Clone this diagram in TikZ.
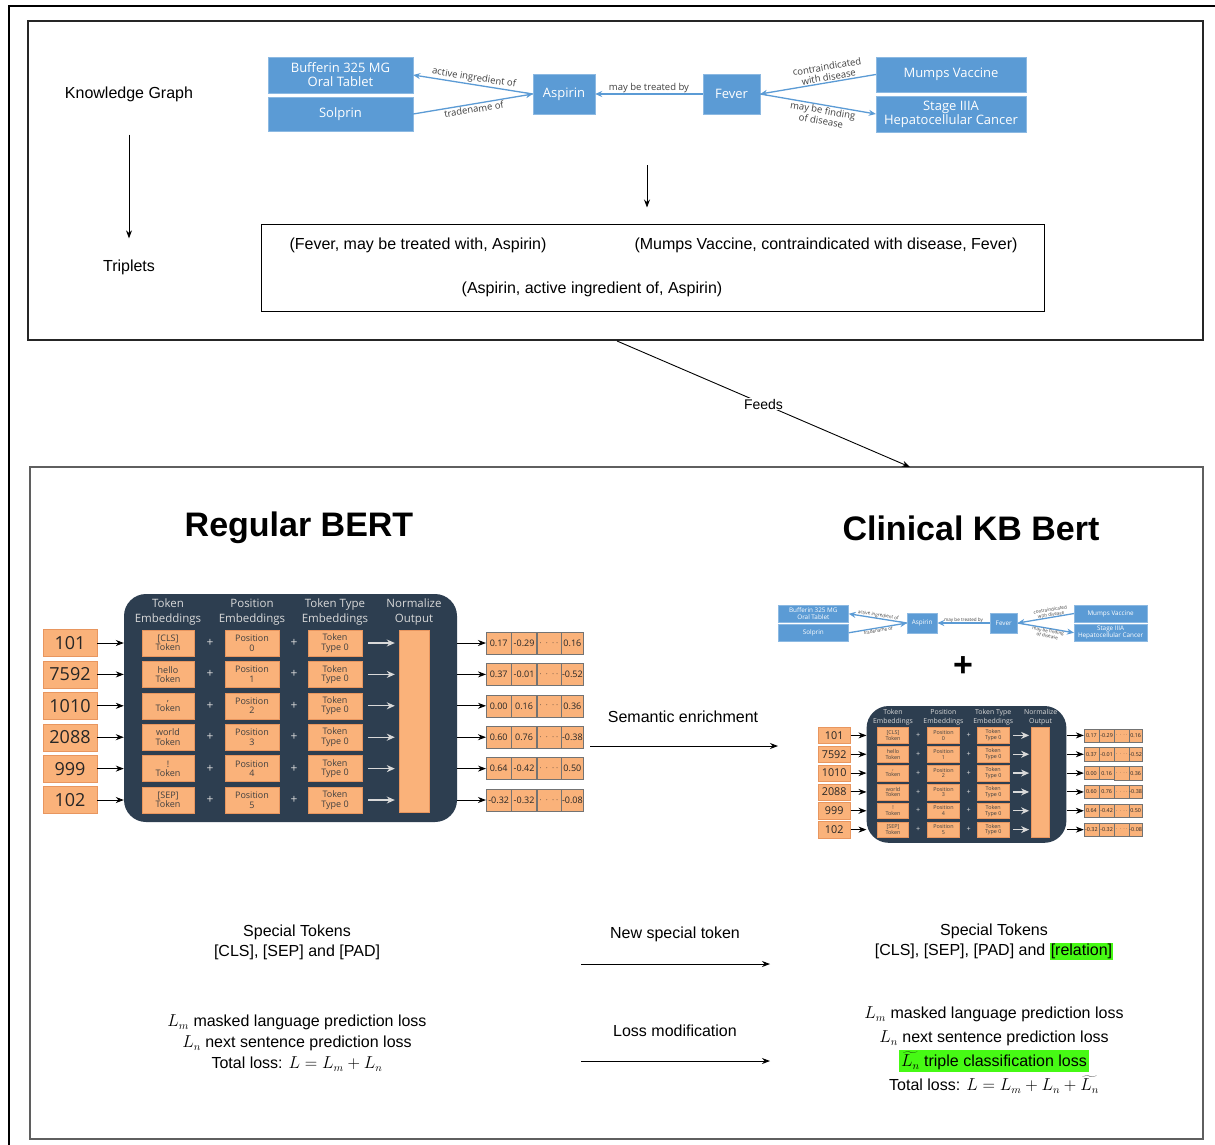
\documentclass[tikz,border=0pt]{standalone}
\usepackage[no-math]{fontspec}
\setmainfont{Liberation Sans}
\newfontfamily\diagfont{Open Sans}
\usetikzlibrary{positioning,arrows.meta}

\definecolor{kgblue}{RGB}{91,155,213}
\definecolor{bertdark}{RGB}{45,62,80}
\definecolor{bertorange}{RGB}{250,178,122}
\definecolor{orangeline}{RGB}{232,150,95}
\definecolor{hlgreen}{RGB}{70,250,20}
\definecolor{framegray}{RGB}{95,95,95}

\tikzset{
  kgnode/.style={shape=rectangle, fill=kgblue, draw=kgblue!70!white, text=white,
    font=\diagfont\fontsize{13}{14}\selectfont, align=center, inner sep=0pt},
  kgedge/.style={draw=kgblue, line width=1.3pt, -{Stealth[length=7pt,width=6pt]}},
  kglabel/.style={font=\diagfont\fontsize{9.5}{10.5}\selectfont, text=black!75,
    sloped, align=center, inner sep=0pt},
  blackarr/.style={draw=black, line width=0.9pt, -{Stealth[length=8pt,width=6pt]}},
  whitearr/.style={draw=white!85!black, line width=1.2pt, -{Stealth[length=8pt,width=7pt]}},
  darkbox/.style={shape=rectangle, rounded corners=22pt, fill=bertdark, inner sep=0pt},
  inbox/.style={shape=rectangle, fill=bertorange, draw=orangeline, inner sep=0pt,
    minimum width=54, minimum height=27, font=\diagfont\fontsize{18}{18}\selectfont, text=black!85},
  ebox/.style={shape=rectangle, fill=bertorange, draw=orangeline, inner sep=0pt,
    minimum width=54, minimum height=26, align=center,
    font=\diagfont\fontsize{9}{9.5}\selectfont, text=black!75},
  headtxt/.style={align=center, text=white!85!black, inner sep=0pt,
    font=\diagfont\fontsize{11.5}{15}\selectfont},
  plussign/.style={text=white!85!black, inner sep=0pt, font=\diagfont\fontsize{12}{12}\selectfont},
  cell/.style={shape=rectangle, fill=bertorange, draw=black!55, inner sep=0pt,
    minimum height=22, font=\diagfont\fontsize{9}{9}\selectfont, text=black!85},
  plaintxt/.style={align=center, font=\fontsize{16}{20}\selectfont, inner sep=1pt},
}

% knowledge graph, origin at top left of the first box
\newcommand{\kgraph}[1]{%
  \node[kgnode, minimum width=145, minimum height=36] (#1buf) at (72.5,18) {Bufferin 325 MG\\Oral Tablet};
  \node[kgnode, minimum width=145, minimum height=34] (#1sol) at (72.5,57) {Solprin};
  \node[kgnode, minimum width=62, minimum height=40] (#1asp) at (296,37) {Aspirin};
  \node[kgnode, minimum width=57, minimum height=40] (#1fev) at (463.5,37) {Fever};
  \node[kgnode, minimum width=150, minimum height=35] (#1mum) at (683,17.5) {Mumps Vaccine};
  \node[kgnode, minimum width=150, minimum height=36] (#1stg) at (683,57) {Stage IIIA\\Hepatocellular Cancer};
  \draw[kgedge] (#1asp.west) -- node[kglabel, above=1pt] {active ingredient of} (#1buf.east);
  \draw[kgedge] (#1sol.east) -- node[kglabel, below=1pt] {tradename of} (#1asp.west);
  \draw[kgedge] (#1fev.west) -- node[kglabel, above=1pt] {may be treated by} (#1asp.east);
  \draw[kgedge] (#1mum.west) -- node[kglabel, above=1pt, pos=0.4] {contraindicated\\with disease} (#1fev.east);
  \draw[kgedge] (#1fev.east) -- node[kglabel, below=1pt, pos=0.55] {may be finding\\of disease} (#1stg.west);
}

% bert embedding block, origin at top left of the first input box
\newcommand{\bertblock}[1]{%
  \node[darkbox, minimum width=333, minimum height=228] (#1box) at (247.5,114) {};
  \node[headtxt] (#1hTok) at (125,18) {Token\\Embeddings};
  \node[headtxt] (#1hPos) at (209,18) {Position\\Embeddings};
  \node[headtxt] (#1hTyp) at (292,18) {Token Type\\Embeddings};
  \node[headtxt] (#1hNorm) at (371,18) {Normalize\\Output};
  \node[shape=rectangle, fill=bertorange, draw=orangeline, minimum width=30, minimum height=182,
    inner sep=0pt] (#1norm) at (371,127) {};
  \foreach \num/\tok [count=\i from 0] in {101/{[CLS]}, 7592/hello, 1010/{,}, 2088/world, 999/!, 102/{[SEP]}} {
    \pgfmathsetmacro\yy{49+31.4*\i}
    \node[inbox] (#1in\i) at (27,\yy) {\num};
    \node[ebox, minimum width=52] (#1tok\i) at (125,\yy) {\tok\\Token};
    \node[plussign] (#1pa\i) at (167,\yy) {+};
    \node[ebox] (#1pos\i) at (209,\yy) {Position\\\i};
    \node[plussign] (#1pb\i) at (251,\yy) {+};
    \node[ebox] (#1typ\i) at (292,\yy) {Token\\Type 0};
    \draw[blackarr] (#1in\i.east) -- (#1box.west |- #1in\i);
    \draw[whitearr] ([xshift=6pt]#1typ\i.east) -- ([xshift=-4pt]#1norm.west |- #1typ\i);
  }
  \foreach \a/\b/\d [count=\i from 0] in {0.17/-0.29/0.16, 0.37/-0.01/-0.52, 0.00/0.16/0.36,
      0.60/0.76/-0.38, 0.64/-0.42/0.50, -0.32/-0.32/-0.08} {
    \pgfmathsetmacro\yy{49+31.4*\i}
    \node[cell, minimum width=25, anchor=west] (#1oa\i) at (443,\yy) {\a};
    \node[cell, minimum width=25, right=0pt of #1oa\i] (#1ob\i) {\b};
    \node[cell, minimum width=24, right=0pt of #1ob\i] (#1oc\i) {$\cdot\,\cdot\,\cdot\,\cdot$};
    \node[cell, minimum width=22, right=0pt of #1oc\i] (#1od\i) {\d};
    \draw[blackarr] (#1box.east |- #1oa\i) -- (#1oa\i.west);
  }
}

\begin{document}
\begin{tikzpicture}[x=1pt, y=-1pt]
  \useasboundingbox (0,0) rectangle (1215,1144);
  \fill[white] (0,0) rectangle (1215,1144);

  % frames
  \draw[line width=1.2pt] (9,1150) -- (9,6) -- (1220,6);
  \node[draw=black!85, line width=1.3pt, minimum width=1175, minimum height=319, inner sep=0pt]
    (topframe) at (615.5,180.5) {};
  \node[draw=framegray, line width=2pt, minimum width=1173, minimum height=672, inner sep=0pt]
    (bertframe) at (616.5,803) {};

  % knowledge graph part
  \node[plaintxt] (kgtxt) at (129,94) {Knowledge Graph};
  \node[plaintxt] (triptxt) at (129,267) {Triplets};
  \draw[blackarr, shorten <=32pt, shorten >=20pt] (kgtxt) -- (triptxt);

  \begin{scope}[shift={(268,57)}]
    \kgraph{T}
  \end{scope}

  \node[draw=black, line width=1pt, minimum width=783, minimum height=87, inner sep=0pt]
    (tripbox) at (652.5,267.5) {};
  \coordinate (kgdown) at (647,165);
  \draw[blackarr] (kgdown) -- (kgdown |- tripbox.north) [shorten >=16pt];
  \node[plaintxt] (tripA) at (418,245) {(Fever, may be treated with, Aspirin)};
  \node[plaintxt] (tripB) at (826,245) {(Mumps Vaccine, contraindicated with disease, Fever)};
  \node[plaintxt] (tripC) at (592,289) {(Aspirin, active ingredient of, Aspirin)};

  % feeds
  \coordinate (feedA) at (617,341);
  \coordinate (feedB) at (910,467);
  \draw[blackarr] (feedA) -- node[fill=white, inner sep=1pt, font=\fontsize{14}{14}\selectfont] (feedtxt) {Feeds} (feedB);

  % bert part
  \node[font=\bfseries\fontsize{34}{40}\selectfont] (regtitle) at (299,528) {Regular BERT};
  \node[font=\bfseries\fontsize{34}{40}\selectfont] (clintitle) at (971,528) {Clinical KB Bert};

  \begin{scope}[shift={(43,594)}]
    \bertblock{L}
  \end{scope}

  \begin{scope}[shift={(778,605)}, scale=0.487, transform shape]
    \kgraph{S}
  \end{scope}
  \node[font=\bfseries\fontsize{34}{34}\selectfont, inner sep=0pt] (plusbig) at (963,667) {+};
  \begin{scope}[shift={(818,706)}, scale=0.6, transform shape]
    \bertblock{R}
  \end{scope}

  \node[plaintxt] (semtxt) at (683,717) {Semantic enrichment};
  \coordinate (semA) at (590,746);
  \coordinate (semB) at (778,746);
  \draw[blackarr] (semA) -- (semB);

  % special tokens
  \node[plaintxt] (spL) at (297,942) {Special Tokens\\{}[CLS], [SEP] and [PAD]};
  \node[plaintxt] (spR) at (994,942) {Special Tokens\\{}[CLS], [SEP], [PAD] and {\setlength\fboxsep{1pt}\colorbox{hlgreen}{[relation]}}};
  \node[plaintxt] (sptxt) at (675,934) {New special token};
  \coordinate (spA) at (581,964);
  \coordinate (spB) at (770,964);
  \draw[blackarr] (spA) -- (spB);

  % losses
  \node[plaintxt, font=\fontsize{16}{21}\selectfont] (lossL) at (297,1043)
    {$L_m$ masked language prediction loss\\$L_n$ next sentence prediction loss\\Total loss: $L = L_m + L_n$};
  \node[plaintxt, font=\fontsize{16}{24}\selectfont] (lossR) at (994,1050)
    {$L_m$ masked language prediction loss\\$L_n$ next sentence prediction loss\\
     {\setlength\fboxsep{2pt}\colorbox{hlgreen}{$\widetilde{L_n}$\rule{0pt}{14pt} triple classification loss}}\\
     Total loss: $L = L_m + L_n + \widetilde{L_n}$};
  \node[plaintxt] (losstxt) at (675,1031) {Loss modification};
  \coordinate (lsA) at (581,1061);
  \coordinate (lsB) at (770,1061);
  \draw[blackarr] (lsA) -- (lsB);
\end{tikzpicture}
\end{document}
